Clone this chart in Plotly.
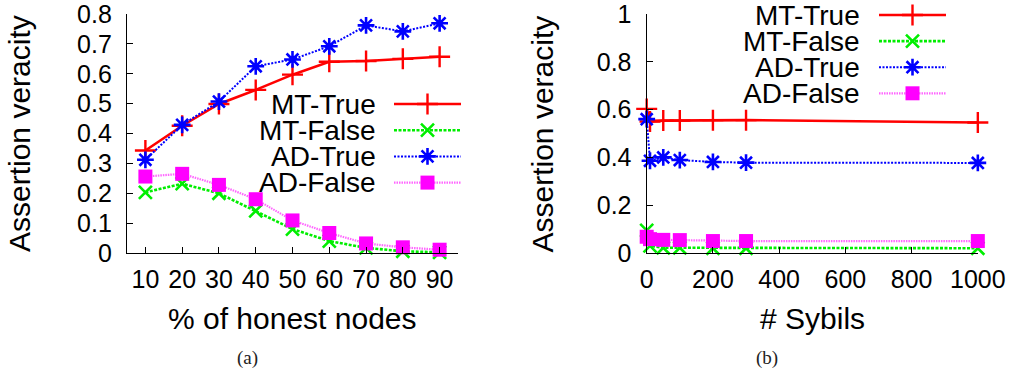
import plotly.graph_objects as go

# ---------------- data ----------------
honest_pct = [10, 20, 30, 40, 50, 60, 70, 80, 90]
a_mt_true = [0.343, 0.426, 0.499, 0.546, 0.597, 0.640, 0.643, 0.650, 0.657]
a_mt_false = [0.203, 0.232, 0.200, 0.141, 0.080, 0.040, 0.017, 0.006, 0.002]
a_ad_true = [0.312, 0.429, 0.507, 0.625, 0.648, 0.692, 0.762, 0.742, 0.769]
a_ad_false = [0.256, 0.265, 0.228, 0.180, 0.109, 0.067, 0.032, 0.019, 0.011]

sybils = [0, 10, 50, 100, 200, 300, 1000]
b_mt_true = [0.603, 0.550, 0.554, 0.554, 0.556, 0.556, 0.546]
b_mt_false = [0.095, 0.030, 0.022, 0.022, 0.020, 0.020, 0.020]
b_ad_true = [0.560, 0.386, 0.400, 0.389, 0.381, 0.378, 0.377]
b_ad_false = [0.068, 0.058, 0.055, 0.054, 0.050, 0.050, 0.050]

series_names = ["MT-True", "MT-False", "AD-True", "AD-False"]
left_ticks = [10, 20, 30, 40, 50, 60, 70, 80, 90]
left_yticks = [0, 0.1, 0.2, 0.3, 0.4, 0.5, 0.6, 0.7, 0.8]
right_yticks = [0, 0.2, 0.4, 0.6, 0.8, 1]
right_xticks = [0, 200, 400, 600, 800, 1000]

# ---------------- styles ----------------
W, H = 1013, 375
FONT = "Liberation Sans"
styles = {
    "MT-True": dict(line=dict(color="#ff0000", width=2.6, dash="solid"),
                    marker=dict(symbol="cross-thin", size=15, color="#ff0000",
                                line=dict(color="#ff0000", width=2.4))),
    "MT-False": dict(line=dict(color="#00ee00", width=2.6, dash="3px,1.5px"),
                     marker=dict(symbol="x-thin", size=13, color="#00ee00",
                                 line=dict(color="#00ee00", width=2.6))),
    "AD-True": dict(line=dict(color="#0000ff", width=2.0, dash="2px,1.5px"),
                    marker=dict(symbol="asterisk", size=14, color="#0000ff",
                                line=dict(color="#0000ff", width=2.6))),
    "AD-False": dict(line=dict(color="#ff66ff", width=2.2, dash="1.5px,1px"),
                     marker=dict(symbol="square", size=14, color="#ff00ff",
                                 line=dict(width=0))),
}

fig = go.Figure()

left_series = [a_mt_true, a_mt_false, a_ad_true, a_ad_false]
right_series = [b_mt_true, b_mt_false, b_ad_true, b_ad_false]

for name, ys in zip(series_names, left_series):
    st = styles[name]
    fig.add_trace(go.Scatter(x=honest_pct, y=ys, mode="lines+markers", name=name,
                             line=st["line"], marker=st["marker"], cliponaxis=False,
                             showlegend=False, xaxis="x", yaxis="y"))
for name, ys in zip(series_names, right_series):
    st = styles[name]
    fig.add_trace(go.Scatter(x=sybils, y=ys, mode="lines+markers", name=name,
                             line=st["line"], marker=st["marker"], cliponaxis=False,
                             showlegend=False, xaxis="x2", yaxis="y2"))

# ---------------- custom legends (gnuplot style: text then sample) ----------------
legend_layout = [
    # (text right edge px, sample x0, sample x1, first row y, row step)
    (378, 394, 461, 104, 26.2),
    (862, 879, 946, 15, 26.1),
]
annotations = []
for (tx, sx0, sx1, ry0, step) in legend_layout:
    for i, name in enumerate(series_names):
        st = styles[name]
        ry = ry0 + i * step
        fig.add_trace(go.Scatter(x=[sx0, sx1], y=[ry, ry], mode="lines", line=st["line"],
                                 showlegend=False, hoverinfo="skip", xaxis="x3", yaxis="y3"))
        fig.add_trace(go.Scatter(x=[(sx0 + sx1) / 2], y=[ry], mode="markers", marker=st["marker"],
                                 showlegend=False, hoverinfo="skip", xaxis="x3", yaxis="y3"))
        annotations.append(dict(x=tx / W, y=1 - ry / H, xref="paper", yref="paper",
                                text=name, showarrow=False, xanchor="right", yanchor="middle",
                                font=dict(family=FONT, size=28, color="black")))

# axis titles and captions
title_font = dict(family=FONT, size=30, color="black")
annotations += [
    dict(x=292 / W, y=1 - 318 / H, text="% of honest nodes", font=title_font),
    dict(x=812 / W, y=1 - 318 / H, text="# Sybils", font=title_font),
    dict(x=20 / W, y=1 - 134 / H, text="Assertion veracity", textangle=-90, font=title_font),
    dict(x=542.5 / W, y=1 - 134 / H, text="Assertion veracity", textangle=-90, font=title_font),
    dict(x=247 / W, y=1 - 358 / H, text="(a)", font=dict(family="Liberation Serif", size=19, color="#222")),
    dict(x=767 / W, y=1 - 358 / H, text="(b)", font=dict(family="Liberation Serif", size=19, color="#222")),
]
for a in annotations[-6:]:
    a.update(xref="paper", yref="paper", showarrow=False, xanchor="center", yanchor="middle")

tick_font = dict(family=FONT, size=25, color="black")
ydom = [1 - 253 / H, 1 - 14 / H]
common = dict(showline=True, linecolor="black", linewidth=1.2, ticks="inside", ticklen=6,
              tickcolor="black", tickwidth=1, showgrid=False, zeroline=False,
              tickfont=tick_font, mirror=False, automargin=False,
              ticklabeloverflow="allow")

fig.update_layout(
    width=W, height=H, autosize=False,
    margin=dict(l=0, r=0, t=0, b=0, pad=0, autoexpand=False),
    paper_bgcolor="white", plot_bgcolor="rgba(0,0,0,0)",
    showlegend=False, hovermode=False,
    xaxis=dict(domain=[127 / W, 458 / W], range=[5, 95], tickvals=left_ticks,
               anchor="y", ticklabelstandoff=4, **common),
    yaxis=dict(domain=ydom, range=[0, 0.8001], tickvals=left_yticks,
               ticktext=["0", "0.1", "0.2", "0.3", "0.4", "0.5", "0.6", "0.7", "0.8"],
               anchor="x", ticklabelstandoff=9, **common),
    xaxis2=dict(domain=[646.7 / W, 978 / W], range=[0, 1000.5], tickvals=right_xticks,
                anchor="y2", ticklabelstandoff=4, **common),
    yaxis2=dict(domain=ydom, range=[0, 1.0001], tickvals=right_yticks,
                ticktext=["0", "0.2", "0.4", "0.6", "0.8", "1"],
                anchor="x2", ticklabelstandoff=9, **common),
    xaxis3=dict(domain=[0, 1], range=[0, W], visible=False, anchor="y3",
                fixedrange=True, automargin=False),
    yaxis3=dict(domain=[0, 1], range=[H, 0], visible=False, anchor="x3",
                fixedrange=True, automargin=False),
    annotations=annotations,
)

fig.write_html("out.html", config={"displayModeBar": False, "staticPlot": True},
               post_script="document.body.style.margin='0';document.body.style.padding='0';")
